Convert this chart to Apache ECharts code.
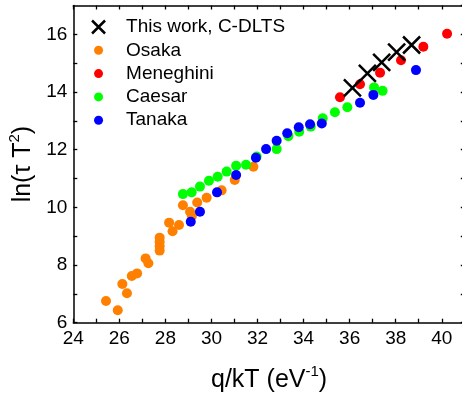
<!DOCTYPE html>
<html>
<head>
<meta charset="utf-8">
<script src="https://cdn.jsdelivr.net/npm/echarts@6/dist/echarts.min.js"></script>
<style>
  html, body { margin: 0; padding: 0; background: #fff; }
  #chart { width: 462px; height: 398px; }
</style>
</head>
<body>
<div id="chart"></div>
<script>
// 数据
const thisWorkX = [36.12, 36.77, 37.39, 38.04, 38.69];
const thisWorkY = [14.14, 14.65, 15.03, 15.38, 15.63];

const osakaX = [25.42, 25.93, 26.13, 26.33, 26.54, 26.77, 27.14, 27.26, 27.75, 27.75, 27.75, 27.75,
    28.16, 28.31, 28.59, 28.76, 29.07, 29.15, 29.38, 29.79, 30.44, 31.01, 31.82];
const osakaY = [6.75, 6.43, 7.34, 7.02, 7.62, 7.71, 8.23, 8.06, 8.95, 8.80, 8.65, 8.50,
    9.47, 9.17, 9.39, 10.07, 9.85, 9.70, 10.17, 10.33, 10.59, 10.95, 11.41];

const meneghiniX = [35.58, 36.45, 37.32, 38.23, 39.20, 40.23];
const meneghiniY = [13.82, 14.27, 14.67, 15.10, 15.57, 16.02];

const caesarX = [28.76, 29.14, 29.50, 29.89, 30.27, 30.66, 31.07, 31.50, 31.96, 32.83, 33.34,
    33.81, 34.31, 34.83, 35.36, 35.90, 37.06, 37.43];
const caesarY = [10.46, 10.52, 10.72, 10.92, 11.06, 11.24, 11.44, 11.48, 11.76, 12.02, 12.47,
    12.62, 12.80, 13.09, 13.30, 13.47, 14.16, 14.04];

const tanakaX = [29.10, 29.50, 30.24, 31.07, 31.93, 32.37, 32.83, 33.29, 33.79, 34.28, 34.79,
    36.45, 37.03, 38.88];
const tanakaY = [9.50, 9.85, 10.52, 11.12, 11.72, 12.02, 12.31, 12.57, 12.78, 12.88, 12.91,
    13.63, 13.90, 14.76];

const legendNames = ['This work, C-DLTS', 'Osaka', 'Meneghini', 'Caesar', 'Tanaka'];

function pairs(xs, ys) {
    return xs.map((x, i) => [x, ys[i]]);
}

const FONT = 'Liberation Sans, Arial, sans-serif';
const crossPath = 'path://M0,0L17,17M17,0L0,17';
// 图例图标：用 M 点撑开外框，让圆点变小、文字右移
const legendDot = 'path://M0,0M45,13M22.5,2A4.5,4.5,0,1,1,22.5,11A4.5,4.5,0,1,1,22.5,2Z';
const legendCross = 'path://M0,0M45,13M16,0L29,13M29,0L16,13';

function evenLabel(v) {
    return v % 2 === 0 ? String(v) : '';
}

function makeX(pos) {
    return {
        type: 'value',
        position: pos,
        min: 24,
        max: 41,
        interval: 1,
        axisLine: { show: true, onZero: false, lineStyle: { color: '#000', width: 1.5 } },
        axisTick: { show: true, inside: true, length: 4, lineStyle: { color: '#000', width: 1.3 } },
        axisLabel: {
            show: pos === 'bottom',
            formatter: evenLabel,
            showMaxLabel: false,
            color: '#000',
            fontSize: 19,
            fontFamily: FONT,
            margin: 7
        },
        splitLine: { show: false }
    };
}

function makeY(pos) {
    return {
        type: 'value',
        position: pos,
        min: 6,
        max: 17,
        interval: 1,
        axisLine: { show: true, onZero: false, lineStyle: { color: '#000', width: 1.5 } },
        axisTick: { show: true, inside: true, length: 4, lineStyle: { color: '#000', width: 1.3 } },
        axisLabel: {
            show: pos === 'left',
            formatter: evenLabel,
            showMaxLabel: false,
            color: '#000',
            fontSize: 19,
            fontFamily: FONT,
            margin: 6
        },
        splitLine: { show: false }
    };
}

const xBottom = makeX('bottom');
xBottom.name = '{a|q/kT (eV}{s|-1}{a|)}';
xBottom.nameLocation = 'middle';
xBottom.nameGap = 42;
xBottom.nameTextStyle = {
    rich: {
        a: { fontSize: 25, fontFamily: FONT, color: '#000', lineHeight: 30 },
        s: { fontSize: 15, fontFamily: FONT, color: '#000', verticalAlign: 'top', lineHeight: 30 }
    }
};

const yLeft = makeY('left');
yLeft.name = '{a|ln(τ T}{s|2}{a|)}';
yLeft.nameLocation = 'middle';
yLeft.nameGap = 34;
yLeft.nameTextStyle = {
    rich: {
        a: { fontSize: 25, fontFamily: FONT, color: '#000', lineHeight: 30 },
        s: { fontSize: 15, fontFamily: FONT, color: '#000', verticalAlign: 'top', lineHeight: 30 }
    }
};

const chart = echarts.init(document.getElementById('chart'));

const dotSeries = (name, xs, ys, color) => ({
    name: name,
    type: 'scatter',
    data: pairs(xs, ys),
    symbol: 'circle',
    symbolSize: 10,
    itemStyle: { color: color, opacity: 1 },
    emphasis: { disabled: true }
});

const option = {
    animation: false,
    // 右边框在画布外，x 轴到 41
    grid: { left: 73.3, top: 5.5, width: 391.5, height: 317.2, outerBoundsMode: 'none', containLabel: false },
    xAxis: [xBottom, makeX('top')],
    yAxis: [yLeft, makeY('right')],
    legend: {
        orient: 'vertical',
        left: 69.8,
        top: 12.5,
        itemWidth: 45,
        itemHeight: 13,
        itemGap: 4.3,
        textStyle: { color: '#000', fontSize: 19, fontFamily: FONT, lineHeight: 17 },
        data: [
            { name: legendNames[0], icon: legendCross, itemStyle: { color: '#000', borderColor: '#000', borderWidth: 2.5 } },
            { name: legendNames[1], icon: legendDot, itemStyle: { borderWidth: 0 } },
            { name: legendNames[2], icon: legendDot, itemStyle: { borderWidth: 0 } },
            { name: legendNames[3], icon: legendDot, itemStyle: { borderWidth: 0 } },
            { name: legendNames[4], icon: legendDot, itemStyle: { borderWidth: 0 } }
        ]
    },
    series: [
        dotSeries(legendNames[1], osakaX, osakaY, '#ff8000'),
        dotSeries(legendNames[3], caesarX, caesarY, '#00ff00'),
        dotSeries(legendNames[4], tanakaX, tanakaY, '#0000ff'),
        dotSeries(legendNames[2], meneghiniX, meneghiniY, '#ff0000'),
        {
            name: legendNames[0],
            type: 'scatter',
            data: pairs(thisWorkX, thisWorkY),
            symbol: crossPath,
            symbolSize: 17,
            itemStyle: { color: '#000', borderColor: '#000', borderWidth: 2.5, opacity: 1 },
            emphasis: { disabled: true }
        }
    ]
};

chart.setOption(option);
</script>
</body>
</html>
